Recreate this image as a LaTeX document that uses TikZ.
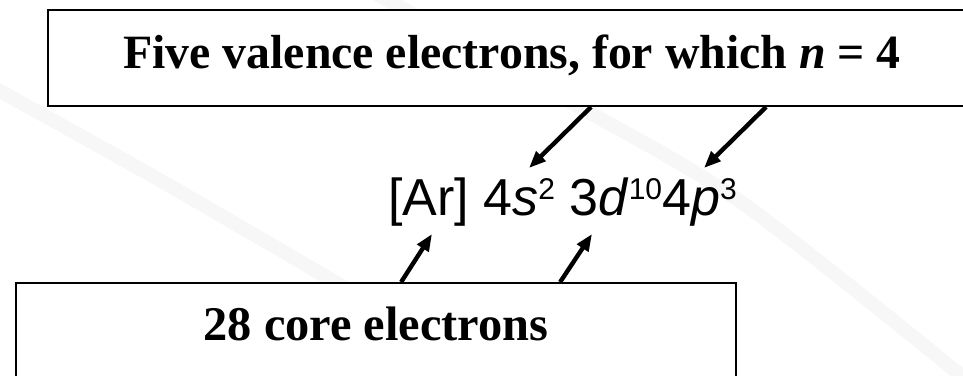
\documentclass[tikz,border=0pt]{standalone}
\usepackage{fontspec}
\setmainfont{Liberation Serif}
\newfontfamily\arialfont{Liberation Sans}
\usetikzlibrary{arrows.meta}
\newcommand{\shl}[1]{\raisebox{16pt}{\fontsize{30}{30}\selectfont #1}}
\tikzset{
  box/.style={draw, line width=1.8pt, fill=white, inner sep=0pt, text height=31pt},
  arr/.style={line width=4.4pt, -{Triangle[length=17pt,width=13pt]}},
  swoosh/.style={line width=14pt, black!3}
}

\begin{document}
\begin{tikzpicture}[x=1pt, y=-1pt]
\useasboundingbox (0,0) rectangle (963,375);
\clip (0,0) rectangle (963,375);
\draw[swoosh] plot[smooth] coordinates {(-20,80) (170,186) (400,320)};
\draw[swoosh] plot[smooth] coordinates {(360,-15) (567,100) (745,205) (985,395)};
\node[box, minimum width=928pt, minimum height=96pt, text depth=11pt,
  font=\fontsize{47.8}{48}\selectfont\bfseries] (valence) at (512,58)
  {Five valence electrons, for which \textit{n} = 4};
\node[box, minimum width=720pt, minimum height=110pt, text depth=27pt,
  font=\fontsize{48.4}{48}\selectfont\bfseries] (core) at (376,338)
  {28 core electrons};
\node[anchor=base west, inner sep=0pt, font=\arialfont\fontsize{52}{52}\selectfont] (config) at (388,215)
  {[Ar] 4\textit{s}\shl{2} 3\textit{d}\shl{10}4\textit{p}\shl{3}};
\coordinate (s4) at (529,168);
\coordinate (p4) at (704,168);
\coordinate (ar) at (432,234);
\coordinate (d3) at (592,234);
\draw[arr] (valence.south west) ++(544,0) -- (s4);
\draw[arr] (valence.south west) ++(719,0) -- (p4);
\draw[arr] (core.north west) ++(386,0) -- (ar);
\draw[arr] (core.north west) ++(545,0) -- (d3);
\end{tikzpicture}
\end{document}
